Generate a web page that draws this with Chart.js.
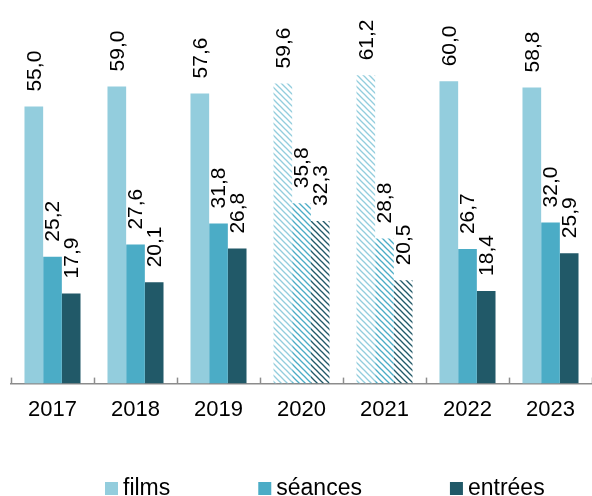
<!DOCTYPE html>
<html>
<head>
<meta charset="utf-8">
<script src="https://cdn.jsdelivr.net/npm/chart.js@4/dist/chart.umd.min.js"></script>
<style>
html,body{margin:0;padding:0;background:#fff;}
#wrap{width:592px;height:496px;}
</style>
</head>
<body>
<div id="wrap"><canvas id="c" width="592" height="496"></canvas></div>
<script>
const categories = ['2017', '2018', '2019', '2020', '2021', '2022', '2023'];
const films    = [55.0, 59.0, 57.6, 59.6, 61.2, 60.0, 58.8];
const seances  = [25.2, 27.6, 31.8, 35.8, 28.8, 26.7, 32.0];
const entrees  = [17.9, 20.1, 26.8, 32.3, 20.5, 18.4, 25.9];
const hatched  = [false, false, false, true, true, false, false];
const seriesNames = ['films', 'séances', 'entrées'];
const seriesColors = ['#93CDDD', '#4BACC6', '#215968'];

const FONT = '"Liberation Sans", Arial, sans-serif';

function makePattern(color) {
  const s = 6;
  const p = document.createElement('canvas');
  p.width = s; p.height = s;
  const g = p.getContext('2d');
  g.strokeStyle = color;
  g.lineWidth = 1.3;
  for (let k = -1; k <= 1; k++) {
    g.beginPath();
    g.moveTo(k * s - 1, -1);
    g.lineTo(k * s + s + 1, s + 1);
    g.stroke();
  }
  return g.createPattern(p, 'repeat');
}

function fills(color) {
  const pat = makePattern(color);
  return hatched.map(h => h ? pat : color);
}

const valueLabels = {
  id: 'valueLabels',
  afterDatasetsDraw(chart) {
    const ctx = chart.ctx;
    ctx.save();
    ctx.font = '21px ' + FONT;
    ctx.fillStyle = '#000';
    ctx.textAlign = 'left';
    ctx.textBaseline = 'middle';
    chart.data.datasets.forEach((ds, di) => {
      const meta = chart.getDatasetMeta(di);
      meta.data.forEach((bar, i) => {
        const txt = ds.data[i].toFixed(1).replace('.', ',');
        ctx.save();
        ctx.translate(bar.x + 1, bar.y - 15);
        ctx.rotate(-Math.PI / 2);
        ctx.fillText(txt, 0, 0);
        ctx.restore();
      });
    });
    ctx.restore();
  }
};

const innerTicks = {
  id: 'innerTicks',
  afterDraw(chart) {
    const sc = chart.scales.x;
    const ctx = chart.ctx;
    const n = chart.data.labels.length;
    const step = (sc.right - sc.left) / n;
    ctx.save();
    ctx.strokeStyle = '#8c8c8c';
    ctx.lineWidth = 1.5;
    for (let i = 0; i <= n; i++) {
      const x = Math.round(sc.left + i * step) + 0.5;
      ctx.beginPath();
      ctx.moveTo(x, sc.top - 6);
      ctx.lineTo(x, sc.top);
      ctx.stroke();
    }
    ctx.restore();
  }
};

const customLegend = {
  id: 'customLegend',
  afterDraw(chart) {
    const ctx = chart.ctx;
    ctx.save();
    ctx.font = '23px ' + FONT;
    ctx.textBaseline = 'alphabetic';
    ctx.textAlign = 'left';
    const baseY = chart.height - 1;
    const box = 13, gapText = 5, gapItem = 88;
    let x = 105;
    chart.data.datasets.forEach((ds, i) => {
      ctx.fillStyle = seriesColors[i];
      ctx.fillRect(x, baseY - box, box, box);
      ctx.fillStyle = '#000';
      const tx = x + box + gapText;
      ctx.fillText(ds.label, tx, baseY);
      x = tx + ctx.measureText(ds.label).width + gapItem;
    });
    ctx.restore();
  }
};

new Chart(document.getElementById('c'), {
  type: 'bar',
  data: {
    labels: categories,
    datasets: [
      { label: seriesNames[0], data: films,   backgroundColor: fills(seriesColors[0]) },
      { label: seriesNames[1], data: seances, backgroundColor: fills(seriesColors[1]) },
      { label: seriesNames[2], data: entrees, backgroundColor: fills(seriesColors[2]) }
    ]
  },
  options: {
    responsive: false,
    animation: false,
    devicePixelRatio: 1,
    layout: { padding: { left: 11, right: 0, top: 31, bottom: 60 } },
    datasets: { bar: { categoryPercentage: 0.675, barPercentage: 1.0, borderWidth: 0 } },
    plugins: { legend: { display: false }, tooltip: { enabled: false } },
    scales: {
      x: {
        grid: { display: false, drawTicks: false },
        border: { display: true, color: '#8c8c8c', width: 1.5 },
        ticks: { color: '#000', font: { family: FONT, size: 22 }, padding: 13 }
      },
      y: {
        display: false,
        min: 0,
        max: 70
      }
    }
  },
  plugins: [valueLabels, innerTicks, customLegend]
});
</script>
</body>
</html>
